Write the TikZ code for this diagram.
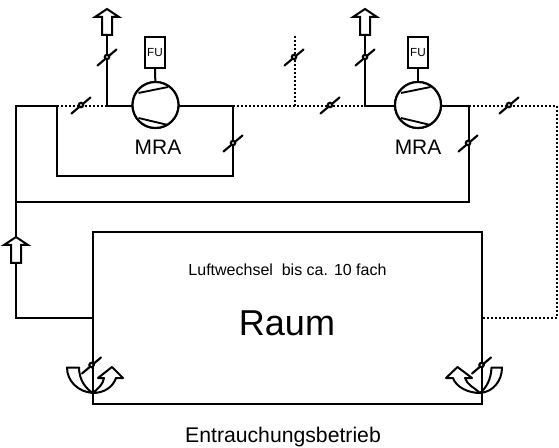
\documentclass[tikz,border=0pt]{standalone}
\usepackage{fontspec}
\setmainfont{Liberation Sans}
\begin{document}
\begin{tikzpicture}[x=0.75pt,y=-0.75pt,
  duct/.style={line width=1.5pt,line cap=round,line join=miter},
  dots/.style={line width=1.5pt,dash pattern=on 1.5pt off 1.5pt},
  thinline/.style={line width=1.4pt},
  txt/.style={inner sep=0pt,text=black},
  pumpc/.style={circle,draw,line width=1.6pt,minimum size=34.5pt,inner sep=0pt,fill=white},
  fubox/.style={draw,line width=1.5pt,minimum width=15.5pt,minimum height=23.5pt,inner sep=0pt,font=\fontsize{8.8pt}{10pt}\selectfont,fill=white},
  room/.style={draw,line width=1.5pt,minimum width=291.75pt,minimum height=129pt,inner sep=0pt},
  arrowup/.pic={\draw[line width=1.5pt,fill=white,line join=miter] (-5,26)--(-5,8)--(-12,8)--(0,0)--(12,8)--(5,8)--(5,26)--cycle;},
  damper/.pic={\draw[line width=1.6pt,line cap=round] (-9.5,8.5)--(9.5,-7.5);\draw[line width=1.6pt,fill=white] (0,0) circle (2.2);}
]
\useasboundingbox (0,0) rectangle (559,448);
% junction coordinates
\coordinate (tl) at (16,106);
\coordinate (a) at (57,106);
\coordinate (b) at (107,106);
\coordinate (c) at (233,106);
\coordinate (d) at (295,106);
\coordinate (e) at (365,106);
\coordinate (f) at (469,106);
\coordinate (g) at (557,106);
\coordinate (h) at (557,318);
\coordinate (lb) at (16,318);
\coordinate (ll) at (16,202);
\coordinate (a2) at (57,176);
\coordinate (c2) at (233,176);
\coordinate (f2) at (469,202);
\coordinate (ex1) at (107,35);
\coordinate (ex2) at (365,35);
\coordinate (dtop) at (295,35);
% room and labels
\node[room] (raum) at (287.5,318) {};
\node[pumpc] (p1) at (155.5,105) {};
\node[pumpc] (p2) at (418,105) {};
\node[fubox] (fu1) at (155,52.5) {FU};
\node[fubox] (fu2) at (418,52.5) {FU};
\node[txt,font=\fontsize{15.7pt}{16pt}\selectfont] (m1) at (158,147.5) {MRA};
\node[txt,font=\fontsize{15.7pt}{16pt}\selectfont] (m2) at (418,147.5) {MRA};
\node[txt,font=\fontsize{12pt}{14pt}\selectfont] (lw) at (287.5,270) {Luftwechsel\ \ bis ca. 10 fach};
\node[txt,font=\fontsize{27pt}{27pt}\selectfont] (rm) at (287,323) {Raum};
\node[txt,font=\fontsize{15.9pt}{16pt}\selectfont] (eb) at (283,437) {Entrauchungsbetrieb};
% solid ducts
\draw[duct] (a)--(tl)--(lb)--(raum.west |- lb);
\draw[duct] (ll)--(f2)--(f);
\draw[duct] (a)--(a2)--(c2)--(c)--(p1.east |- c);
\draw[duct] (ex1)--(b)--(p1.west |- b);
\draw[duct] (ex2)--(e)--(p2.west |- e);
\draw[duct] (p2.east |- f)--(f);
\draw[duct] (fu1)--(p1);
\draw[duct] (fu2)--(p2);
\node[pumpc] at (p1) {};
\node[pumpc] at (p2) {};
\node[fubox] at (fu1) {FU};
\node[fubox] at (fu2) {FU};
% dotted ducts
\draw[dots] (a)--(b);
\draw[dots] (c)--(e);
\draw[dots] (d)--(dtop);
\draw[dots] (f)--(g)--(h)--(raum.east |- h);
% pump blades
\draw[thinline] (138.5,93)--(168,87) (138.5,118)--(168,125);
\draw[thinline] (401,93)--(430.5,87) (401,118)--(430.5,125);
% dampers
\path (81,105) pic{damper} (107,57) pic{damper} (233,143) pic{damper}
      (294,57) pic{damper} (330,105) pic{damper} (365,57) pic{damper}
      (468,143) pic{damper} (509,105) pic{damper} (91.5,365) pic{damper};
\path (481.5,365) pic{damper};
% exhaust arrows
\path (107,9) pic{arrowup} (365,9) pic{arrowup} (16,237) pic{arrowup};
% corner symbols, left
\draw[duct,line join=round] (93,393) .. controls (78,392) and (67,381) .. (67,367.5) -- (79,367.5) .. controls (79,380) and (86,389) .. (93,393);
\draw[duct,line join=round] (93,393) .. controls (98,388) and (103,385) .. (104,378) -- (98,378) -- (112,367) -- (123,378) -- (116,378) .. controls (113,387) and (104,393) .. (93,393);
% corner symbols, right
\draw[duct,line join=round] (480,393) .. controls (493,392) and (502,381) .. (502,367.5) -- (491.5,367.5) .. controls (491,380) and (486,388) .. (480,393);
\draw[duct,line join=round] (480,393) .. controls (475,388) and (467,385) .. (465,378) -- (472,378) -- (457.5,367) -- (446,378) -- (453,378) .. controls (456,387) and (468,393) .. (480,393);
\end{tikzpicture}
\end{document}
